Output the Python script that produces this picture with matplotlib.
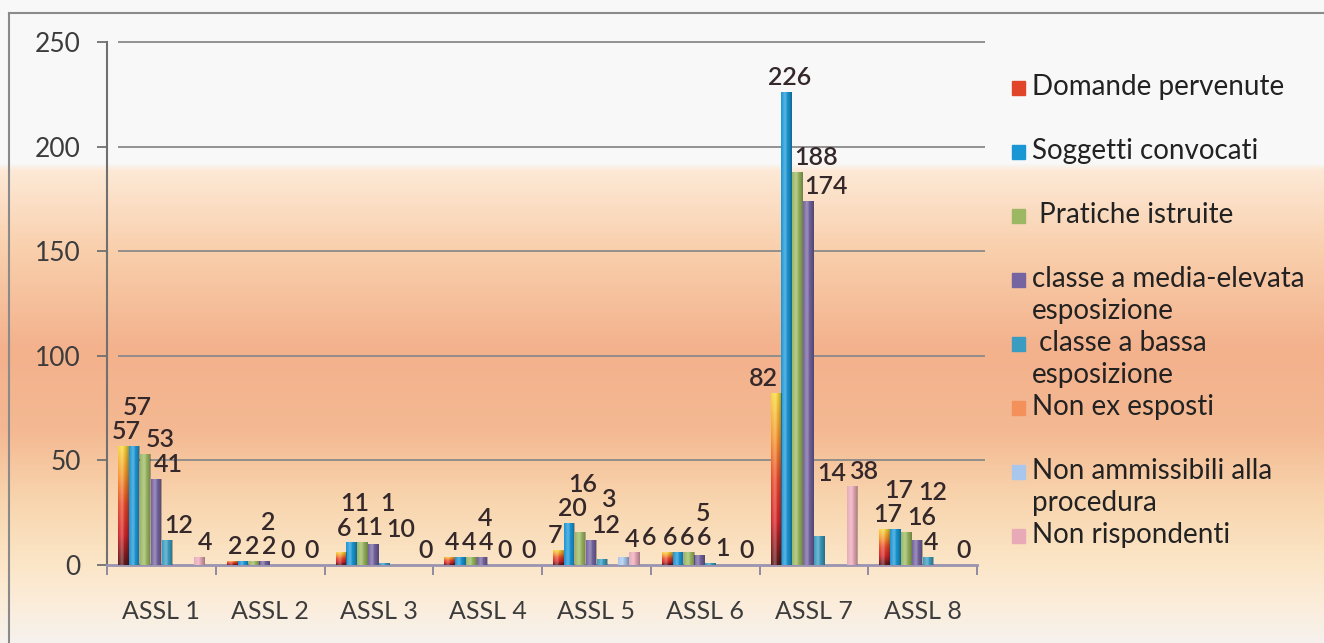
import numpy as np
import matplotlib
matplotlib.use('Agg')
from matplotlib import pyplot as plt
from matplotlib.colors import LinearSegmentedColormap, to_rgb
from matplotlib.patches import Rectangle
from matplotlib.lines import Line2D

plt.rcParams['font.family'] = ['Lato', 'DejaVu Sans']

# ---- data ----
categories = ['ASSL 1', 'ASSL 2', 'ASSL 3', 'ASSL 4', 'ASSL 5', 'ASSL 6', 'ASSL 7', 'ASSL 8']
series_names = ['Domande pervenute', 'Soggetti convocati', ' Pratiche istruite',
                'classe a media-elevata\nesposizione', ' classe a bassa\nesposizione',
                'Non ex esposti', 'Non ammissibili alla\nprocedura', 'Non rispondenti']
domande = [57, 2, 6, 4, 7, 6, 82, 17]
soggetti = [57, 2, 11, 4, 20, 6, 226, 17]
pratiche = [53, 2, 11, 4, 16, 6, 188, 16]
media_elevata = [41, 2, 10, 4, 12, 5, 174, 12]
bassa = [12, 0, 1, 0, 3, 1, 14, 4]
non_ex = [0, 0, 0, 0, 0, 0, 0, 0]
non_ammissibili = [0, 0, 0, 0, 4, 0, 0, 0]
non_rispondenti = [4, 0, 0, 0, 6, 0, 38, 0]
yticks = [0, 50, 100, 150, 200, 250]

values = [domande, soggetti, pratiche, media_elevata, bassa, non_ex, non_ammissibili, non_rispondenti]
colors = ['#e0452a', '#1a96d4', '#9cb862', '#7464a0', '#3a9cc0', '#f4905a', '#a9c7ec', '#e9aab8']
label_always = [True, True, True, True, True, False, False, True]

W, H = 1324, 643
fig = plt.figure(figsize=(W / 100, H / 100), dpi=100)

def fx(px):
    return px / W

def fy(py):
    return 1 - py / H

# background gradient (pixel rows from top)
stops = [(0, '#f8f8f8'), (163, '#f8f8f8'), (170, '#fde9d6'), (250, '#f9cfac'),
         (350, '#f3b18c'), (430, '#f4b992'), (500, '#f8d5ae'), (560, '#fbe5c6'),
         (605, '#fbeddb'), (643, '#f6f2ee')]
rows = np.arange(H)
sy = [s[0] for s in stops]
grad = np.zeros((H, 1, 3))
for c in range(3):
    grad[:, 0, c] = np.interp(rows, sy, [to_rgb(s[1])[c] for s in stops])
bg = fig.add_axes([0, 0, 1, 1], zorder=-10)
bg.imshow(grad, aspect='auto', extent=[0, 1, 0, 1])
bg.axis('off')
fig.add_artist(Line2D([fx(9), fx(9)], [fy(13), 0], color='#8a8a8a', lw=1.5))
fig.add_artist(Line2D([fx(9), 1], [fy(13), fy(13)], color='#8a8a8a', lw=1.5))

ax = fig.add_axes([fx(107), fy(565), fx(977) - fx(107), fy(42) - fy(565)])
ax.set_facecolor('none')

x = np.arange(len(categories))
bw = 0.1
grad_cmap = LinearSegmentedColormap.from_list('dom', ['#5e1a1c', '#d3262b', '#e64a2b', '#f5982f', '#f8d83c'])

# horizontal cylinder shading
shade_x = np.linspace(0, 1, 40)
shade = np.zeros((1, 40, 4))
light = np.clip(1 - np.abs(shade_x - 0.35) / 0.35, 0, 1)
dark = np.clip((shade_x - 0.55) / 0.45, 0, 1)
shade[0, :, :3] = 1.0
shade[0, :, 3] = 0.28 * light
shade[0, shade_x > 0.55, :3] = 0.0
shade[0, shade_x > 0.55, 3] = 0.3 * dark[shade_x > 0.55]

all_bars = []
for j, vals in enumerate(values):
    xs = x + (j - 3.5) * bw
    bars = ax.bar(xs, vals, width=bw * 0.96, color=colors[j] if j > 0 else 'none', zorder=3, linewidth=0)
    all_bars.append(bars)
    for b, v in zip(bars, vals):
        if v <= 0:
            continue
        x0, x1 = b.get_x(), b.get_x() + b.get_width()
        if j == 0:
            im = ax.imshow(np.linspace(1, 0, 100)[:, None], cmap=grad_cmap, aspect='auto',
                           extent=[x0, x1, 0, v], zorder=3)
            im.set_clip_path(b)
        im2 = ax.imshow(shade, aspect='auto', extent=[x0, x1, 0, v], zorder=4)
        im2.set_clip_path(b)

ax.set_xlim(-0.5, 7.5)
ax.set_ylim(0, 250)

# data labels: nudge up / sideways until they clear other labels and bars
lab_fs = 18
renderer = fig.canvas.get_renderer()
cands = sorted([(r, s) for r in range(0, 200, 3) for s in range(-30, 31, 3)],
               key=lambda c: c[0] + 2 * abs(c[1]) + (0.5 if c[1] < 0 else 0))

def hits(box, others):
    l, b, r, t = box
    return any(l < o[2] and r > o[0] and b < o[3] and t > o[1] for o in others)

def text_size(txt):
    t = ax.text(0, 0, txt, fontsize=lab_fs, fontweight='semibold')
    bb = t.get_window_extent(renderer)
    t.remove()
    return bb.width + 2, bb.height + 1

for i in range(len(categories)):
    placed = []
    for j in range(len(values)):
        bb = all_bars[j][i].get_window_extent()
        if values[j][i] > 0:
            placed.append((bb.x0, bb.y0, bb.x1, bb.y1))
    for j, vals in enumerate(values):
        v = vals[i]
        if not label_always[j] and v == 0:
            continue
        xc = x[i] + (j - 3.5) * bw
        dx, dy = ax.transData.transform((xc, v))
        txt = str(v)
        wpx, hpx = text_size(txt)
        for r, s in cands:
            cx = dx + 3 + s
            by = dy + 3 + r
            box = (cx - wpx / 2, by, cx + wpx / 2, by + hpx)
            if not hits(box, placed):
                break
        placed.append(box)
        ax.annotate(txt, (xc, v), xytext=((cx - dx) * 0.72, (by - dy) * 0.72),
                    textcoords='offset points', ha='center', va='bottom',
                    fontsize=lab_fs, fontweight='semibold', color='#35282a', zorder=6)

# gridlines
ax.hlines(yticks[1:], 0.013, 1.009, transform=ax.get_yaxis_transform(),
          color='#8a8a8a', lw=1.3, clip_on=False, zorder=1)

ax.set_yticks(yticks)
ax.tick_params(axis='y', direction='out', length=7, width=1.3, color='#707070',
               labelsize=19, labelcolor='#3c3c3c', pad=12)
ax.set_xticks(x)
ax.set_xticklabels(categories)
ax.set_xticks(np.arange(-0.5, 8, 1), minor=True)
ax.tick_params(axis='x', which='major', length=0, labelsize=18, labelcolor='#3c3c3c', pad=25)
ax.tick_params(axis='x', which='minor', direction='out', length=7, width=1.3, color='#8a849e')
for s in ['top', 'right']:
    ax.spines[s].set_visible(False)
ax.spines['left'].set_color('#707070')
ax.spines['left'].set_linewidth(1.5)
ax.spines['bottom'].set_color('#9a94b0')
ax.spines['bottom'].set_linewidth(2)

# legend: entries spaced evenly by first line
for k, name in enumerate(series_names):
    yc = 88 + k * 64
    fig.add_artist(Rectangle((fx(1012), fy(yc + 7)), fx(13), fy(yc - 7) - fy(yc + 7),
                             transform=fig.transFigure, color=colors[k]))
    fig.text(fx(1032), fy(yc - 14), name, ha='left', va='top', fontsize=20,
             color='#222222', linespacing=1.3)

fig.savefig('out.png', dpi=100)
